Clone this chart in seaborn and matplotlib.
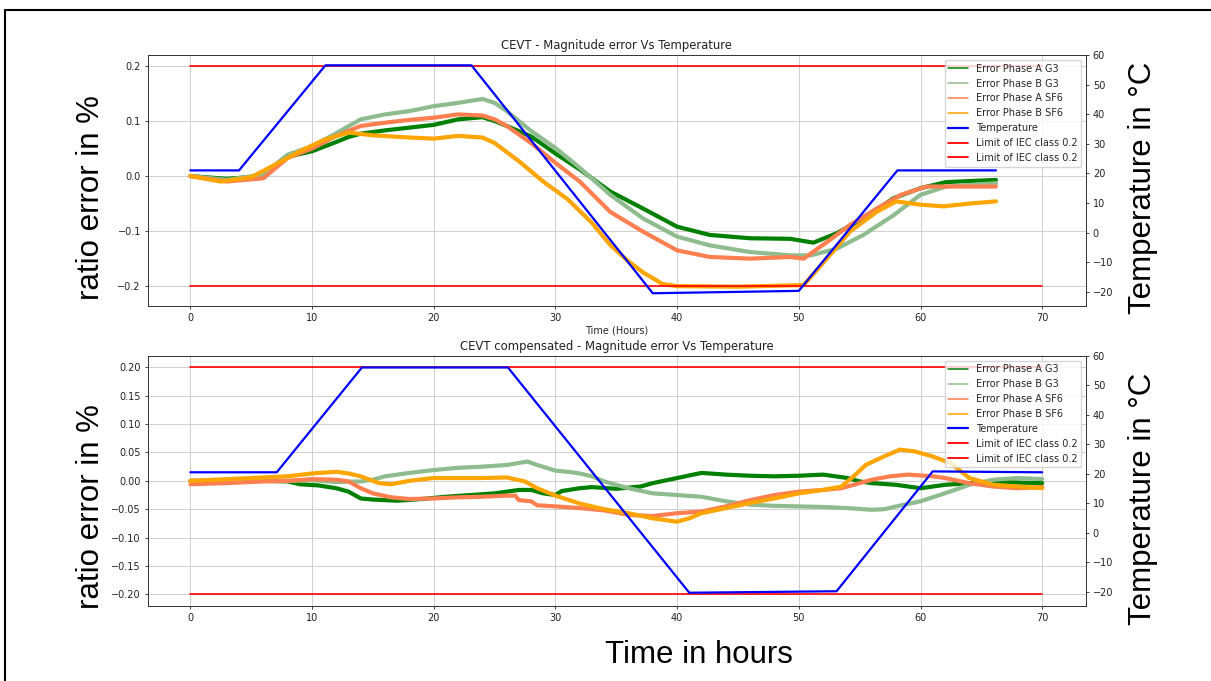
import matplotlib
matplotlib.use("Agg")
import matplotlib.pyplot as plt
from matplotlib.lines import Line2D
import seaborn as sns

# ---- data (hours, ratio error in %, temperature in degC) ----
series_labels = ["Error Phase A G3", "Error Phase B G3", "Error Phase A SF6", "Error Phase B SF6"]
series_colors = ["green", "darkseagreen", "coral", "orange"]
limit_hours = [0, 70]
limit_upper = [0.2, 0.2]
limit_lower = [-0.2, -0.2]

# top panel: uncompensated
top_a_g3_h = [0, 3, 6, 8, 10, 12, 13, 14, 16, 18, 20, 22, 24, 25, 26, 28, 30, 32, 34.5, 37.2, 40,
              42.7, 46, 49.3, 51.2, 53.1, 55.3, 57.8, 60, 62.1, 66.2]
top_a_g3 = [0, -0.005, 0.0, 0.035, 0.045, 0.062, 0.071, 0.077, 0.083, 0.088, 0.093, 0.103, 0.107, 0.1,
            0.091, 0.072, 0.041, 0.012, -0.028, -0.059, -0.092, -0.107, -0.113, -0.114, -0.121, -0.104,
            -0.077, -0.04, -0.022, -0.011, -0.007]
top_b_g3_h = [0, 3, 6, 8, 10, 12, 14, 16, 18, 20, 22, 24, 25, 26, 28, 30, 32, 34.5, 37.2, 40, 42.7,
              46, 49.3, 51, 53.1, 55.3, 57.8, 60, 62.1, 66.2]
top_b_g3 = [0, -0.007, 0.003, 0.039, 0.054, 0.078, 0.103, 0.112, 0.118, 0.127, 0.133, 0.14, 0.133, 0.118,
            0.082, 0.051, 0.015, -0.034, -0.077, -0.11, -0.126, -0.138, -0.144, -0.144, -0.132, -0.107,
            -0.071, -0.034, -0.019, -0.013]
top_a_sf6_h = [0, 3, 6, 8, 10, 12, 14, 16, 18, 20, 22, 24, 25, 26, 28, 30, 32, 34.5, 37.2, 40, 42.7,
               46, 49.3, 50.4, 52.3, 54.2, 56.4, 58.4, 60.5, 66.2]
top_a_sf6 = [0, -0.01, -0.004, 0.033, 0.05, 0.073, 0.091, 0.097, 0.102, 0.106, 0.112, 0.11, 0.103, 0.091,
             0.06, 0.024, -0.01, -0.065, -0.101, -0.135, -0.147, -0.15, -0.147, -0.15, -0.12, -0.089,
             -0.059, -0.034, -0.019, -0.019]
top_b_sf6_h = [0, 2.5, 5, 7, 9, 11, 13, 15, 18, 20, 22, 24, 25, 27, 29, 31, 33, 34.5, 36, 37.2, 38.8,
               40, 45, 50.4, 52.3, 54.2, 56.4, 58, 60, 61.9, 64, 66.2]
top_b_sf6 = [0, -0.01, -0.002, 0.021, 0.045, 0.066, 0.079, 0.074, 0.07, 0.068, 0.073, 0.07, 0.06, 0.027,
             -0.01, -0.042, -0.085, -0.125, -0.155, -0.175, -0.196, -0.2, -0.201, -0.198, -0.15, -0.101,
             -0.065, -0.046, -0.052, -0.055, -0.05, -0.046]
top_temp_h = [0, 4.0, 11.1, 23.1, 38.0, 50.0, 58.1, 66.2]
top_temp = [21, 21, 56.5, 56.5, -20.5, -19.7, 21, 21]

# bottom panel: compensated
bot_a_g3_h = [0, 6, 8, 9, 10.5, 12, 13, 14, 15, 17, 19, 21, 23, 25, 27, 28, 29, 30, 30.5, 32, 33, 35,
              37, 38, 40, 42, 44, 46, 48, 50, 52, 53, 54, 55, 56, 58, 60, 62, 64, 66, 68, 70]
bot_a_g3 = [0, 0, -0.001, -0.006, -0.008, -0.013, -0.019, -0.031, -0.033, -0.035, -0.032, -0.028, -0.025,
            -0.022, -0.016, -0.016, -0.022, -0.025, -0.018, -0.013, -0.011, -0.014, -0.01, -0.004, 0.005,
            0.014, 0.011, 0.009, 0.008, 0.009, 0.011, 0.008, 0.005, -0.001, -0.004, -0.007, -0.013,
            -0.007, -0.004, -0.001, -0.003, -0.004]
bot_b_g3_h = [0, 8, 10, 12, 14, 15, 16, 18, 20, 22, 24, 26, 27.7, 28.5, 30, 31, 32, 33, 34, 36, 38, 40,
              42, 44, 46, 48, 50, 52, 54, 56, 57, 58, 60, 62, 64, 66, 68, 70]
bot_b_g3 = [0, 0, 0.001, -0.002, -0.001, 0.002, 0.008, 0.014, 0.019, 0.023, 0.025, 0.028, 0.034, 0.028,
            0.018, 0.016, 0.013, 0.008, -0.001, -0.013, -0.022, -0.025, -0.028, -0.036, -0.042, -0.044,
            -0.045, -0.046, -0.048, -0.051, -0.05, -0.045, -0.036, -0.022, -0.007, 0.002, 0.005, 0.003]
bot_a_sf6_h = [0, 3, 6, 8, 10, 12, 13, 14, 15, 16.5, 18, 20, 22, 24, 26, 26.7, 27, 28, 28.5, 30, 32, 34,
               36, 38, 40, 42, 44, 46, 48, 50, 52, 53.5, 55, 56, 57.5, 59, 61, 62, 64, 66, 68, 70]
bot_a_sf6 = [-0.006, -0.004, -0.001, 0, 0.003, 0.002, -0.001, -0.013, -0.022, -0.029, -0.032, -0.031,
             -0.029, -0.028, -0.026, -0.026, -0.034, -0.036, -0.043, -0.045, -0.048, -0.052, -0.06, -0.062,
             -0.057, -0.054, -0.045, -0.034, -0.025, -0.019, -0.016, -0.013, -0.004, 0.002, 0.008, 0.011,
             0.008, 0.005, -0.004, -0.01, -0.013, -0.011]
bot_b_sf6_h = [0, 3, 6, 8, 10, 12, 13, 14, 15.5, 16.5, 18, 20, 22, 24, 26, 27.5, 28.5, 30, 32, 34, 36, 38,
               40, 41, 42, 44, 46, 48, 50, 52, 53.5, 54.5, 55.5, 57, 58.3, 59.5, 61, 62.5, 64, 66, 68, 70]
bot_b_sf6 = [0, 0.003, 0.006, 0.008, 0.013, 0.016, 0.013, 0.008, -0.004, -0.006, 0, 0.005, 0.005, 0.005,
             0.006, -0.001, -0.013, -0.026, -0.04, -0.05, -0.057, -0.066, -0.072, -0.066, -0.057, -0.048,
             -0.039, -0.031, -0.022, -0.016, -0.01, 0.008, 0.028, 0.043, 0.055, 0.052, 0.043, 0.031, 0.005,
             -0.007, -0.01, -0.013]
bot_temp_h = [0, 7.1, 14.1, 26.1, 41.0, 53.1, 61.0, 70]
bot_temp = [20.5, 20.5, 56, 56, -20.3, -19.8, 20.8, 20.5]

sns.set_style("ticks")
plt.rcParams["font.family"] = ["DejaVu Sans"]

W, H = 1211, 681
fig = plt.figure(figsize=(W / 100, H / 100), dpi=100)


def draw_panel(rect, title, err_data, temp_h, temp_v, ylim, xlabel=None):
    ax = fig.add_axes(rect)
    for (hx, vy), col in zip(err_data, series_colors):
        sns.lineplot(x=hx, y=vy, ax=ax, color=col, lw=3.0)
    sns.lineplot(x=limit_hours, y=limit_upper, ax=ax, color="red", lw=1.2)
    sns.lineplot(x=limit_hours, y=limit_lower, ax=ax, color="red", lw=1.2)
    ax.set_xlim(-3.5, 73.6)
    ax.set_ylim(*ylim)
    ax.grid(True, color="#cfcfcf", lw=0.7)
    ax.set_title(title, fontsize=8.4, pad=4, color="#222222")
    ax.set_xlabel(xlabel if xlabel else "", fontsize=7, labelpad=2)
    ax.set_ylabel("")

    ax2 = ax.twinx()
    sns.lineplot(x=temp_h, y=temp_v, ax=ax2, color="blue", lw=1.6)
    ax2.set_ylim(-24.8, 60)
    ax2.set_ylabel("")

    for a in (ax, ax2):
        a.tick_params(labelsize=7, length=2.5, width=0.6, pad=2.4, colors="#222222")
        for s in a.spines.values():
            s.set_linewidth(0.6)
            s.set_color("#333333")

    handles = [Line2D([], [], color=c, lw=1.1) for c in series_colors]
    handles += [Line2D([], [], color="blue", lw=1.6),
                Line2D([], [], color="red", lw=1.3), Line2D([], [], color="red", lw=1.3)]
    labels = series_labels + ["Temperature", "Limit of IEC class 0.2", "Limit of IEC class 0.2"]
    ax2.legend(handles, labels, loc="upper right", fontsize=7, handlelength=2.0)
    return ax, ax2


draw_panel([0.1220, 0.5507, 0.7748, 0.3686], "CEVT - Magnitude error Vs Temperature",
           [(top_a_g3_h, top_a_g3), (top_b_g3_h, top_b_g3), (top_a_sf6_h, top_a_sf6), (top_b_sf6_h, top_b_sf6)],
           top_temp_h, top_temp, (-0.236, 0.22), xlabel="Time (Hours)")
draw_panel([0.1220, 0.1101, 0.7748, 0.3676], "CEVT compensated - Magnitude error Vs Temperature",
           [(bot_a_g3_h, bot_a_g3), (bot_b_g3_h, bot_b_g3), (bot_a_sf6_h, bot_a_sf6), (bot_b_sf6_h, bot_b_sf6)],
           bot_temp_h, bot_temp, (-0.2205, 0.2205))

# big slide labels
big = dict(fontsize=22.5, family=["Liberation Sans", "DejaVu Sans"], color="black")
fig.text(91 / W, 1 - 198 / H, "ratio error in %", rotation=90, ha="center", va="center", **big)
fig.text(91 / W, 1 - 507 / H, "ratio error in %", rotation=90, ha="center", va="center", **big)
fig.text(1143 / W, 1 - 188 / H, "Temperature in °C", rotation=90, ha="center", va="center", **big)
fig.text(1143 / W, 1 - 499 / H, "Temperature in °C", rotation=90, ha="center", va="center", **big)
fig.text(699 / W, 1 - 655 / H, "Time in hours", ha="center", va="center", **big)

# slide frame (top and left edges visible)
fig.add_artist(Line2D([5 / W, 1], [1 - 10 / H, 1 - 10 / H], transform=fig.transFigure, color="black", lw=1.5))
fig.add_artist(Line2D([5 / W, 5 / W], [0, 1 - 10 / H], transform=fig.transFigure, color="black", lw=1.5))

fig.savefig("out.png", dpi=100)
